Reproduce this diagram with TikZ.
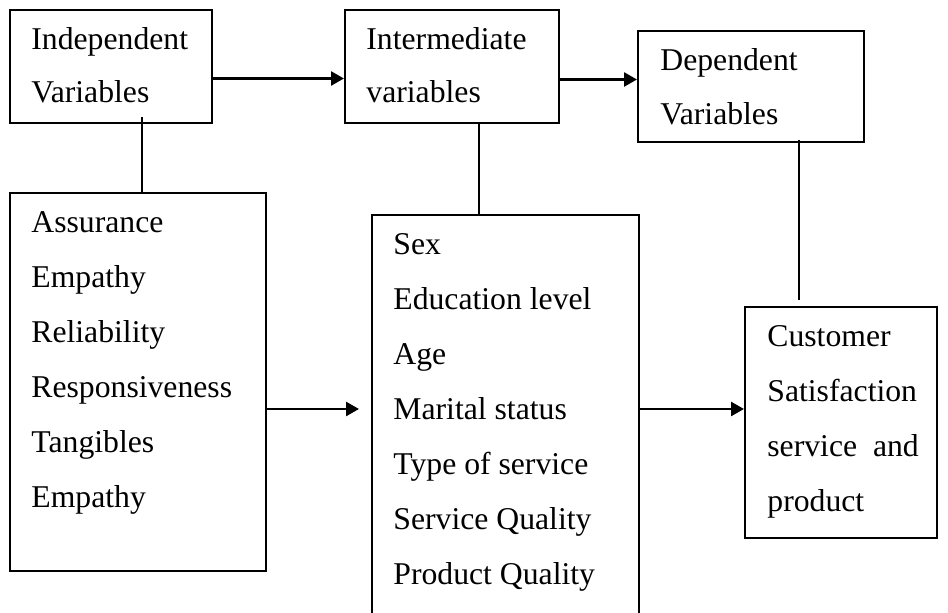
\documentclass[tikz,border=0pt]{standalone}
\usepackage{fontspec}
\setmainfont{Liberation Serif}
\usetikzlibrary{positioning, arrows.meta, fit, calc}

\tikzset{
  box/.style={draw, line width=1pt, inner sep=0pt},
  lbl/.style={anchor=base west, inner sep=0pt, font=\fontsize{15.85}{19}\selectfont},
  link/.style={line width=1pt},
  arr/.style={line width=1.3pt, -{Triangle[length=6.5pt, width=7pt]}}
}

\begin{document}
\begin{tikzpicture}[x=0.5pt, y=-0.5pt]
  \useasboundingbox (0,0) rectangle (948,613);
  \clip (0,0) rectangle (948,613);
  % Top row boxes
  \node[box, fit={(10,10) (212,123)}] (indep) {};
  \node[box, fit={(345,10) (559,123)}] (inter) {};
  \node[box, fit={(638,31) (864,142)}] (dep) {};
  % Lower boxes
  \node[box, fit={(10,193) (266,571)}] (dims) {};
  \node[box, fit={(372,215) (639,640)}] (demo) {};
  \node[box, fit={(745,307) (937,538)}] (cust) {};
  % Headings
  \node[lbl] (indep-1) at (31,50) {Independent};
  \node[lbl] (indep-2) at (31,103) {Variables};
  \node[lbl] (inter-1) at (366,50) {Intermediate};
  \node[lbl] (inter-2) at (366,103) {variables};
  \node[lbl] (dep-1) at (660,71) {Dependent};
  \node[lbl] (dep-2) at (660,125) {Variables};
  % Lists
  \foreach \txt [count=\i] in {Assurance,Empathy,Reliability,Responsiveness,Tangibles,Empathy}
    \node[lbl] (dims-\i) at (31,178+55*\i) {\txt};
  \foreach \txt [count=\i] in {Sex,Education level,Age,Marital status,Type of service,Service Quality,Product Quality}
    \node[lbl] (demo-\i) at (393,200+55*\i) {\txt};
  \foreach \txt [count=\i] in {Customer,Satisfaction,service\ \ and,product}
    \node[lbl] (cust-\i) at (767,292+55*\i) {\txt};
  % Arrows
  \draw[arr] ([yshift=-6pt]indep.east) -- ([yshift=-6pt]indep.east -| inter.west);
  \draw[arr] ([yshift=-6.5pt]inter.east) -- ([yshift=-6.5pt]inter.east -| dep.west);
  \draw[arr, shorten >=6pt] ([yshift=-13.5pt]dims.east) -- ([yshift=-13.5pt]dims.east -| demo.west);
  \draw[arr] ([yshift=6.75pt]cust.west -| demo.east) -- ([yshift=6.75pt]cust.west);
  % Links
  \draw[link] ([xshift=15.5pt, yshift=3.5pt]indep.south) -- ([xshift=15.5pt]indep.south |- dims.north);
  \draw[link] ([xshift=13.5pt]inter.south) -- ([xshift=13.5pt]inter.south |- demo.north);
  \draw[link] ([xshift=24pt, yshift=1.5pt]dep.south) -- ([xshift=24pt, yshift=3pt]dep.south |- cust.north);
\end{tikzpicture}
\end{document}
